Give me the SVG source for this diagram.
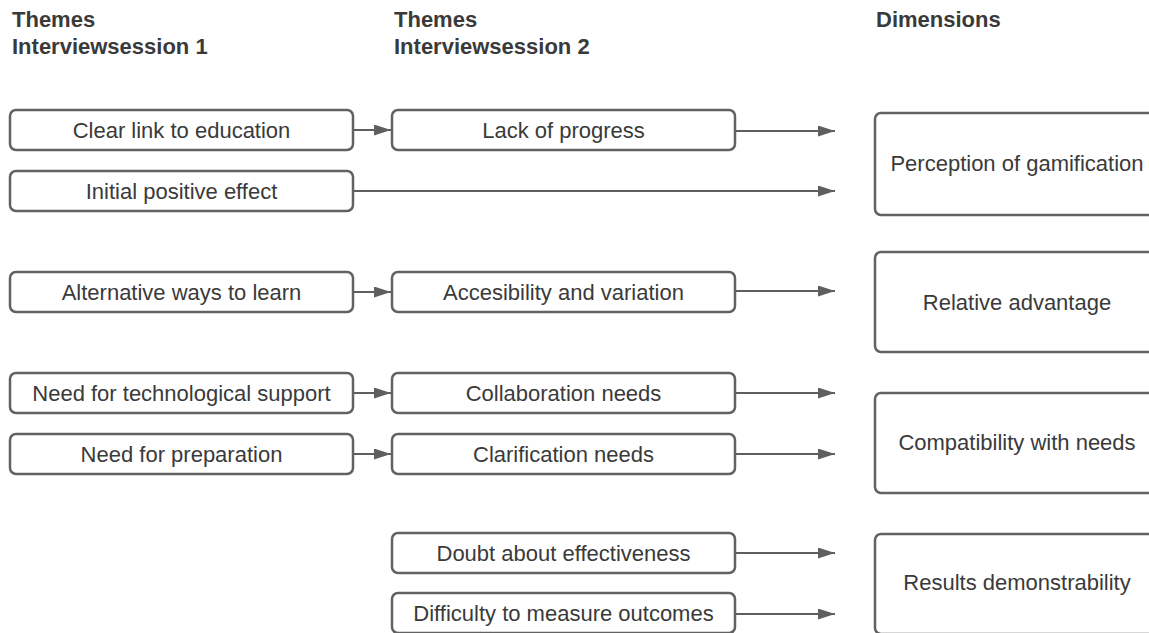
<svg xmlns="http://www.w3.org/2000/svg" width="1149" height="633" viewBox="0 0 1149 633">
<defs>
<marker id="ah" markerUnits="userSpaceOnUse" markerWidth="17" markerHeight="11" refX="17" refY="5.5" orient="auto">
<path d="M0,0 L17,5.5 L0,11 z" fill="#5f5f5f"/>
</marker>
<style>
.box{fill:#fff;stroke:#626262;stroke-width:2.5}
.t{font-family:"Liberation Sans",Arial,sans-serif;font-size:22px;fill:#3a3a3a;text-anchor:middle}
.h{font-family:"Liberation Sans",Arial,sans-serif;font-size:22px;font-weight:bold;fill:#3a3a3a}
.c{stroke:#5f5f5f;stroke-width:2;fill:none;marker-end:url(#ah)}
</style>
</defs>
<rect width="1149" height="633" fill="#fff"/>
<g id="headers">
<text class="h" x="12" y="27">Themes</text>
<text class="h" x="12" y="54">Interviewsession 1</text>
<text class="h" x="394" y="27">Themes</text>
<text class="h" x="394" y="54">Interviewsession 2</text>
<text class="h" x="876" y="27">Dimensions</text>
</g>
<g id="connectors">
<path class="c" d="M353,130 H391"/>
<path class="c" d="M353,191 H835"/>
<path class="c" d="M353,292 H391"/>
<path class="c" d="M353,393 H391"/>
<path class="c" d="M353,454 H391"/>
<path class="c" d="M735,131 H835"/>
<path class="c" d="M735,291 H835"/>
<path class="c" d="M735,393 H835"/>
<path class="c" d="M735,454 H835"/>
<path class="c" d="M735,553 H835"/>
<path class="c" d="M735,614 H835"/>
</g>
<g id="n-clear"><rect class="box" x="10" y="110" width="343" height="40" rx="6"/><text class="t" x="181.5" y="137.5">Clear link to education</text></g>
<g id="n-initial"><rect class="box" x="10" y="171" width="343" height="40" rx="6"/><text class="t" x="181.5" y="198.5">Initial positive effect</text></g>
<g id="n-alt"><rect class="box" x="10" y="272" width="343" height="40" rx="6"/><text class="t" x="181.5" y="299.5">Alternative ways to learn</text></g>
<g id="n-tech"><rect class="box" x="10" y="373" width="343" height="40" rx="6"/><text class="t" x="181.5" y="400.5">Need for technological support</text></g>
<g id="n-prep"><rect class="box" x="10" y="434" width="343" height="40" rx="6"/><text class="t" x="181.5" y="461.5">Need for preparation</text></g>
<g id="n-lack"><rect class="box" x="392" y="110" width="343" height="40" rx="6"/><text class="t" x="563.5" y="137.5">Lack of progress</text></g>
<g id="n-access"><rect class="box" x="392" y="272" width="343" height="40" rx="6"/><text class="t" x="563.5" y="299.5">Accesibility and variation</text></g>
<g id="n-collab"><rect class="box" x="392" y="373" width="343" height="40" rx="6"/><text class="t" x="563.5" y="400.5">Collaboration needs</text></g>
<g id="n-clarif"><rect class="box" x="392" y="434" width="343" height="40" rx="6"/><text class="t" x="563.5" y="461.5">Clarification needs</text></g>
<g id="n-doubt"><rect class="box" x="392" y="533" width="343" height="40" rx="6"/><text class="t" x="563.5" y="560.5">Doubt about effectiveness</text></g>
<g id="n-diff"><rect class="box" x="392" y="593" width="343" height="40" rx="6"/><text class="t" x="563.5" y="620.5">Difficulty to measure outcomes</text></g>
<g id="d-perception"><rect class="box" x="875" y="113" width="284" height="102" rx="6"/><text class="t" x="1017" y="171">Perception of gamification</text></g>
<g id="d-relative"><rect class="box" x="875" y="252" width="284" height="100" rx="6"/><text class="t" x="1017" y="309.5">Relative advantage</text></g>
<g id="d-compat"><rect class="box" x="875" y="393" width="284" height="100" rx="6"/><text class="t" x="1017" y="450">Compatibility with needs</text></g>
<g id="d-results"><rect class="box" x="875" y="534" width="284" height="100" rx="6"/><text class="t" x="1017" y="590">Results demonstrability</text></g>
</svg>
